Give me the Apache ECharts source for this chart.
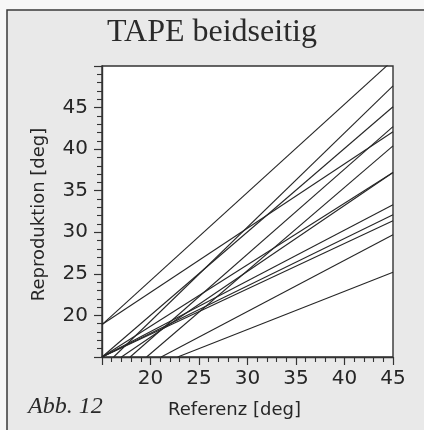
<!DOCTYPE html>
<html>
<head>
<meta charset="utf-8">
<script src="https://cdn.jsdelivr.net/npm/echarts@6/dist/echarts.min.js"></script>
<style>
  html, body { margin: 0; padding: 0; background: #f7f7f7; }
  #chart { width: 424px; height: 430px; }
</style>
</head>
<body>
<div id="chart"></div>
<script>
// Regression lines per subject: start point [Referenz, Reproduktion] and end point at 45 deg
const lineStarts = [
  [15, 18.9], [15, 18.9], [16.2, 15], [15, 15], [17.9, 15], [19.6, 15], [15, 15],
  [17.0, 15], [15, 15], [15, 15], [15, 15], [21.1, 15], [22.8, 15]
];
const lineEnds = [
  [45, 50.7], [45, 42.1], [45, 47.6], [45, 45.1], [45, 42.7], [45, 40.4], [45, 37.2],
  [45, 37.2], [45, 33.3], [45, 32.1], [45, 31.4], [45, 29.7], [45, 25.2]
];
const xTickLabels = ['20', '25', '30', '35', '40', '45'];
const yTickLabels = ['20', '25', '30', '35', '40', '45'];

const chart = echarts.init(document.getElementById('chart'), null, { renderer: 'canvas' });

const ink = '#262626';
const sans = 'DejaVu Sans';

const series = lineStarts.map((s, i) => ({
  type: 'line',
  data: [s, lineEnds[i]],
  symbol: 'none',
  clip: true,
  silent: true,
  lineStyle: { color: ink, width: 1.1 },
  z: 3
}));

chart.setOption({
  animation: false,
  backgroundColor: '#f7f7f7',
  title: {
    text: 'TAPE beidseitig',
    left: 'center',
    top: 12,
    textStyle: { fontFamily: 'Liberation Serif', fontWeight: 'normal', fontSize: 32, color: '#2a2a2a' }
  },
  graphic: [
    {
      type: 'rect',
      z: -10,
      shape: { x: 7, y: 10, width: 420, height: 440 },
      style: { fill: '#e9e9e9', stroke: '#3a3a3a', lineWidth: 1.5 }
    },
    {
      type: 'text',
      left: 28, top: 395,
      style: { text: 'Abb. 12', font: 'italic 24px "Liberation Serif"', fill: '#2a2a2a' }
    }
  ],
  grid: {
    left: 102, right: 31, top: 66, bottom: 73,
    show: true, backgroundColor: '#ffffff', borderColor: '#333', borderWidth: 1.4
  },
  xAxis: {
    type: 'value', min: 15, max: 45, interval: 5,
    name: 'Referenz [deg]', nameLocation: 'middle', nameGap: 44,
    nameTextStyle: { fontFamily: sans, fontSize: 18, color: ink, padding: [0, 26, 0, 0] },
    axisLine: { show: true, lineStyle: { color: '#333', width: 1.4 } },
    axisTick: { show: true, inside: false, length: 8, lineStyle: { color: '#333', width: 1.2 } },
    minorTick: { show: true, splitNumber: 5, length: 5, lineStyle: { color: '#333', width: 1.1 } },
    splitLine: { show: false },
    axisLabel: {
      margin: 12, fontFamily: sans, fontSize: 20, color: ink,
      formatter: v => (xTickLabels.includes(String(v)) ? String(v) : '')
    }
  },
  yAxis: {
    type: 'value', min: 15, max: 50, interval: 5,
    name: 'Reproduktion [deg]', nameLocation: 'middle', nameGap: 54, nameRotate: 90,
    nameTextStyle: { fontFamily: sans, fontSize: 18, color: ink, padding: [0, 6, 0, 0] },
    axisLine: { show: true, lineStyle: { color: '#333', width: 1.4 } },
    axisTick: { show: true, inside: false, length: 8, lineStyle: { color: '#333', width: 1.2 } },
    minorTick: { show: true, splitNumber: 5, length: 5, lineStyle: { color: '#333', width: 1.1 } },
    splitLine: { show: false },
    axisLabel: {
      margin: 14, fontFamily: sans, fontSize: 20, color: ink,
      formatter: v => (yTickLabels.includes(String(v)) ? String(v) : '')
    }
  },
  series
});
</script>
</body>
</html>
